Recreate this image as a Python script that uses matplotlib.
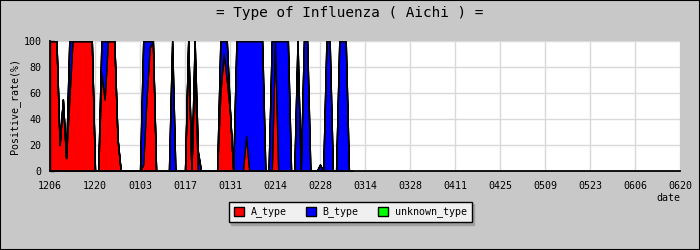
import matplotlib
matplotlib.use("Agg")
import matplotlib.pyplot as plt
from matplotlib.patches import Patch, Rectangle
import numpy as np

# daily positive rate (%) per type, day 0 = 12/06
A_type = [100, 100, 100, 20, 55, 10, 55, 100, 100, 100,
          100, 100, 100, 100, 0, 0, 75, 55, 100, 100,
          100, 25, 0, 0, 0, 0, 0, 0, 0, 5,
          55, 95, 100, 0, 0, 0, 0, 0, 0, 0,
          0, 0, 0, 100, 0, 80, 0, 0, 0, 0,
          0, 0, 0, 60, 90, 70, 45, 0, 0, 0,
          0, 27, 0, 0, 0, 0, 0, 0, 0, 0,
          100, 0, 0, 0, 0, 0, 0, 0, 0, 0,
          0, 0, 0, 0, 0, 0, 0, 0, 0, 0,
          0, 0, 0, 0, 0]
B_type = [0, 0, 0, 0, 0, 0, 45, 0, 0, 0,
          0, 0, 0, 0, 0, 0, 25, 45, 0, 0,
          0, 0, 0, 0, 0, 0, 0, 0, 0, 95,
          45, 5, 0, 0, 0, 0, 0, 0, 100, 0,
          0, 0, 0, 0, 0, 20, 15, 0, 0, 0,
          0, 0, 0, 40, 10, 30, 0, 0, 100, 100,
          100, 73, 100, 100, 100, 100, 100, 0, 0, 100,
          0, 100, 100, 100, 100, 0, 0, 100, 0, 100,
          100, 0, 0, 0, 5, 0, 100, 100, 0, 0,
          100, 100, 100, 0, 0]
unknown_type = [0] * len(A_type)

tick_labels = ["1206", "1220", "0103", "0117", "0131", "0214", "0228", "0314",
               "0328", "0411", "0425", "0509", "0523", "0606", "0620"]

mono = "DejaVu Sans Mono"
plt.rcParams["font.family"] = mono

days = np.arange(len(A_type))
a = np.array(A_type, dtype=float)
b = a + np.array(B_type, dtype=float)
u = b + np.array(unknown_type, dtype=float)

fig = plt.figure(figsize=(7, 2.5), dpi=100, facecolor="#c8c8c8")
ax = fig.add_axes([50 / 700, 79 / 250, 630 / 700, 130 / 250])
ax.set_facecolor("white")

ax.fill_between(days, 0, a, facecolor="#ff0000", edgecolor="black", lw=1.0, antialiased=False)
ax.fill_between(days, a, b, facecolor="#0000ff", edgecolor="black", lw=1.0, antialiased=False)
ax.fill_between(days, b, u, facecolor="#00ff00", edgecolor="black", lw=1.0, antialiased=False)

ax.set_xlim(0, 196)
ax.set_ylim(0, 100)
ax.set_xticks(np.arange(0, 197, 14))
ax.set_xticklabels(tick_labels)
ax.set_yticks(np.arange(0, 101, 20))
ax.set_yticks(np.arange(10, 100, 20), minor=True)
ax.tick_params(axis="x", length=0, pad=7.5, labelsize=7.2)
ax.tick_params(axis="y", which="both", direction="in", length=3, width=1, pad=6, labelsize=7.2)
ax.grid(True, color="#d9d9d9", lw=1)
ax.set_axisbelow(True)

for s in ["top", "right"]:
    ax.spines[s].set_visible(False)
for s in ["left", "bottom"]:
    ax.spines[s].set_linewidth(1.3)

ax.set_ylabel("Positive_rate(%)", fontsize=7.2)
ax.yaxis.set_label_coords(-30 / 630, 0.5)
fig.text(680 / 700, 1 - 198 / 250, "date", ha="right", va="center", fontsize=7.2)
fig.text(0.5, 1 - 13 / 250, "= Type of Influenza ( Aichi ) =", ha="center", va="center", fontsize=10.4)

handles = [Patch(facecolor="#ff0000", edgecolor="black", label="A_type"),
           Patch(facecolor="#0000ff", edgecolor="black", label="B_type"),
           Patch(facecolor="#00ff00", edgecolor="black", label="unknown_type")]
leg = fig.legend(handles=handles, loc="center", bbox_to_anchor=(0.5, 1 - 212 / 250), ncol=3,
                 fontsize=7.2, handlelength=1.0, handleheight=1.0, handletextpad=0.7,
                 columnspacing=1.9, borderpad=0.5, fancybox=False, framealpha=1,
                 shadow={"color": "#a0a0a0", "alpha": 1})
leg.get_frame().set_facecolor("#f0f0f0")
leg.get_frame().set_edgecolor("black")
leg.get_frame().set_linewidth(1.0)

fig.add_artist(Rectangle((0, 0), 1, 1, transform=fig.transFigure, fill=False, ec="black", lw=1.5))

fig.savefig("out.png", dpi=100, facecolor=fig.get_facecolor())
